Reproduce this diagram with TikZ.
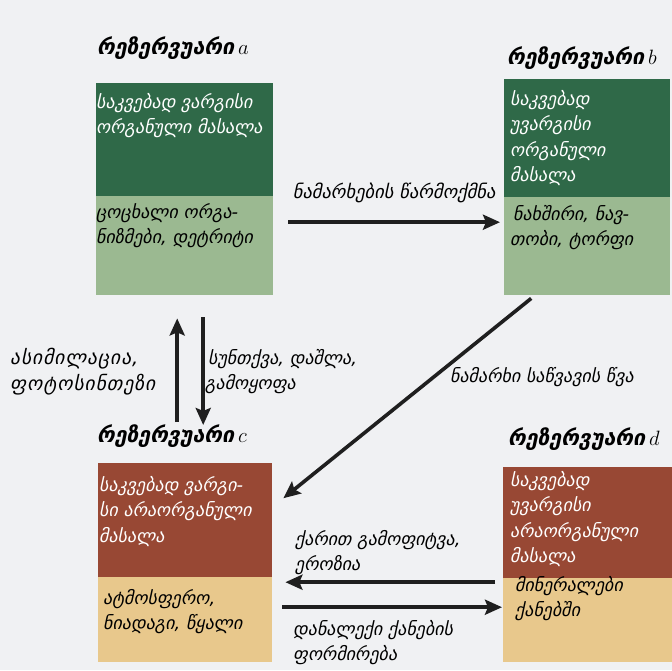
\documentclass[tikz,border=0pt]{standalone}
\usepackage{fontspec}
\setmainfont{DejaVu Sans}[ItalicFont={DejaVu Sans Oblique},BoldFont={DejaVu Sans Bold},BoldItalicFont={DejaVu Sans Bold Oblique}]
\usetikzlibrary{arrows.meta}
\definecolor{pagebg}{HTML}{F0F1F3}
\definecolor{darkgreen}{HTML}{2F6948}
\definecolor{palegreen}{HTML}{9BB991}
\definecolor{rust}{HTML}{984834}
\definecolor{sand}{HTML}{E8C88C}
\begin{document}
\begin{tikzpicture}[x=1pt,y=-1pt,
  block/.style={rectangle,draw=none,inner sep=0pt,anchor=north west},
  bodytext/.style={anchor=north west,align=left,inner sep=0pt,font=\itshape\fontsize{18}{25.5}\selectfont},
  whitetext/.style={bodytext,text=white},
  blacktext/.style={bodytext,text=black},
  header/.style={anchor=base west,inner sep=0pt,font=\bfseries\itshape\fontsize{21.5}{22}\selectfont},
  flow/.style={line width=3.6pt,draw=black!88,-{Stealth[length=17pt,width=15pt,inset=3pt]}}]
% page
\fill[pagebg] (0,0) rectangle (672,670);
\useasboundingbox (0,0) rectangle (672,670);

% reservoir a
\node[block,fill=darkgreen,minimum width=177pt,minimum height=113pt] (aTop) at (96,83) {};
\node[block,fill=palegreen,minimum width=177pt,minimum height=99pt] (aBot) at (96,196) {};
% reservoir b
\node[block,fill=darkgreen,minimum width=166pt,minimum height=118pt] (bTop) at (504,79) {};
\node[block,fill=palegreen,minimum width=166pt,minimum height=98pt] (bBot) at (504,197) {};
% reservoir c
\node[block,fill=rust,minimum width=174pt,minimum height=114pt] (cTop) at (98,463) {};
\node[block,fill=sand,minimum width=174pt,minimum height=85pt] (cBot) at (98,577) {};
% reservoir d
\node[block,fill=rust,minimum width=169pt,minimum height=111pt] (dTop) at (503,467) {};
\node[block,fill=sand,minimum width=169pt,minimum height=84pt] (dBot) at (503,578) {};

% headers
\node[header] (hA) at (97,54) {რეზერვუარი\hspace{4pt}{\mdseries\fontsize{22}{22}\selectfont$a$}};
\node[header] (hB) at (507,64) {რეზერვუარი\hspace{4pt}{\mdseries\fontsize{22}{22}\selectfont$b$}};
\node[header] (hC) at (97,442) {რეზერვუარი\hspace{4pt}{\mdseries\fontsize{22}{22}\selectfont$c$}};
\node[header] (hD) at (508,445) {რეზერვუარი\hspace{4pt}{\mdseries\fontsize{22}{22}\selectfont$d$}};

% box contents
\node[whitetext] (aTopTxt) at ([xshift=0pt,yshift=-10pt]aTop.north west) {საკვებად ვარგისი\\ორგანული მასალა};
\node[blacktext] (aBotTxt) at ([xshift=0pt,yshift=-7pt]aBot.north west) {ცოცხალი ორგა-\\ნიზმები, დეტრიტი};
\node[whitetext] (bTopTxt) at ([xshift=6pt,yshift=-11pt]bTop.north west) {საკვებად\\უვარგისი\\ორგანული\\მასალა};
\node[blacktext] (bBotTxt) at ([xshift=6pt,yshift=-8pt]bBot.north west) {\hspace{3pt}ნახშირი, ნავ-\\თობი, ტორფი};
\node[whitetext] (cTopTxt) at ([xshift=1pt,yshift=-13pt]cTop.north west) {საკვებად ვარგი-\\სი არაორგანული\\მასალა};
\node[blacktext] (cBotTxt) at ([xshift=5pt,yshift=-12pt]cBot.north west) {ატმოსფერო,\\ნიადაგი, წყალი};
\node[whitetext] (dTopTxt) at ([xshift=7pt,yshift=-4pt]dTop.north west) {საკვებად\\უვარგისი\\არაორგანული\\მასალა};
\node[blacktext] (dBotTxt) at ([xshift=12pt,yshift=2pt]dBot.north west) {მინერალები\\ქანებში};

% fluxes between reservoirs
\draw[flow] ([xshift=15pt,yshift=23.5pt]aBot.east) -- ([xshift=-4pt,yshift=24pt]bBot.west)
  node[midway,above=14pt] (lAB) {\itshape\fontsize{18.5}{20}\selectfont ნამარხების წარმოქმნა};
\draw[flow] ([xshift=-8pt,yshift=41pt]cTop.north) -- ([xshift=-7.5pt,yshift=-23pt]aBot.south);
\draw[flow] ([xshift=18.5pt,yshift=-22pt]aBot.south) -- ([xshift=18pt,yshift=38pt]cTop.north);
\draw[flow] ([xshift=-56pt,yshift=-3pt]bBot.south) -- ([xshift=11pt,yshift=22pt]cTop.east);
\draw[flow] ([xshift=-8pt,yshift=38pt]dBot.west) -- ([xshift=13pt,yshift=37.5pt]cBot.east);
\draw[flow] ([xshift=10pt,yshift=12.5pt]cBot.east) -- ([xshift=-1pt,yshift=13pt]dBot.west);

% flux labels
\node[blacktext,font=\itshape\fontsize{19.5}{25.5}\selectfont\addfontfeatures{LetterSpace=5}] (lUp) at (10,348) {ასიმილაცია,\\ფოტოსინთეზი};
\node[blacktext] (lDown) at (205,349) {\hspace{3pt}სუნთქვა, დაშლა,\\გამოყოფა};
\node[blacktext] (lBC) at (450,367) {ნამარხი საწვავის წვა};
\node[blacktext] (lDC) at (295,530) {ქარით გამოფიტვა,\\ეროზია};
\node[blacktext] (lCD) at (293,620) {დანალექი ქანების\\ფორმირება};
\end{tikzpicture}
\end{document}
